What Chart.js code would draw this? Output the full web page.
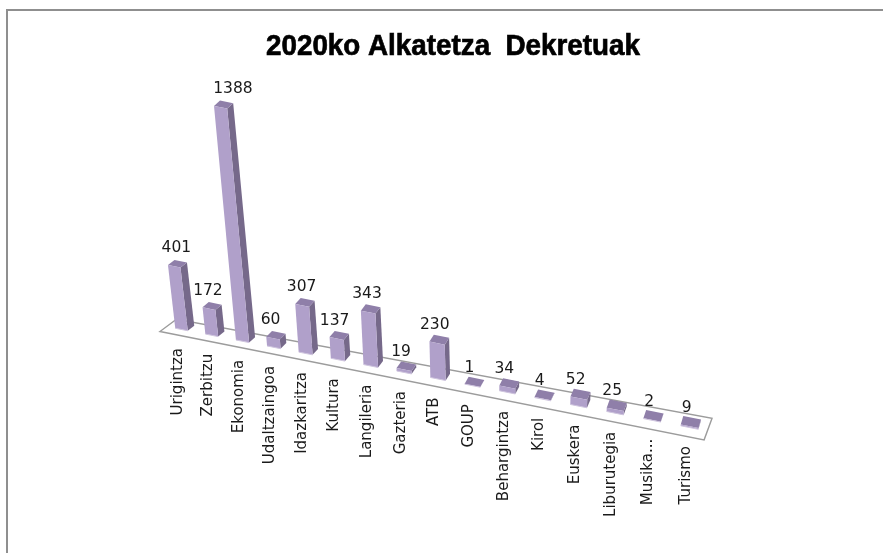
<!DOCTYPE html>
<html><head><meta charset="utf-8">
<style>
html,body{margin:0;padding:0;background:#fff;overflow:hidden;width:883px;height:553px}
#frame{position:absolute;left:6px;top:9px;width:900px;height:600px;border-left:2px solid #8f8f8f;border-top:2px solid #8f8f8f}
canvas{position:absolute;left:0;top:0}
</style>
<script src="https://cdn.jsdelivr.net/npm/chart.js@4"></script>
</head><body>
<div id="frame"></div>
<canvas id="c" width="883" height="553"></canvas>
<script>
const titleText = '2020ko Alkatetza  Dekretuak';
const categories = ['Urigintza','Zerbitzu','Ekonomia','Udaltzaingoa','Idazkaritza','Kultura','Langileria','Gazteria','ATB','GOUP','Behargintza','Kirol','Euskera','Liburutegia','Musika...','Turismo'];
const values = [401,172,1388,60,307,137,343,19,230,1,34,4,52,25,2,9];
const FRONT='#b0a0ca', SIDE='#76698a', TOP='#8f7fa9', TEXT='#1a1a1a';

// Oblique view of the flat scale space: t = category position, h = bar height in scale pixels
function view(chart, px){
  const xs = chart.scales.x, t = (px - xs.getPixelForValue(0)) / (xs.getPixelForValue(1) - xs.getPixelForValue(0));
  const X = 181.5 + 30*t + 0.258*t*t;
  return {t, X, Y: 329.5 + 0.193*(X-181.5),
    w: 12.5 + 0.35*t, dx: 6.5 - 4*t/15, dy: -5 - 3.5*t/15, lean: -(510-X)*0.00035};
}
const oblique = {
  id:'oblique',
  beforeDatasetsDraw(chart){
    const ctx = chart.ctx, xs = chart.scales.x;
    const L = view(chart, xs.left), R = view(chart, xs.right);
    ctx.save();
    ctx.beginPath();
    ctx.moveTo(L.X-L.dx, L.Y-L.dy);
    ctx.lineTo(R.X-R.dx-2, R.Y-R.dy);
    ctx.lineTo(R.X+1.5*R.dx, R.Y+1.5*R.dy);
    ctx.lineTo(L.X+1.5*L.dx, L.Y+1.5*L.dy);
    ctx.closePath();
    ctx.strokeStyle='#9c9c9c'; ctx.lineWidth=1.4; ctx.stroke();
    ctx.restore();
    // title, squeezed to the reference's condensed look
    ctx.save();
    ctx.font='bold 30px "Liberation Sans"'; ctx.fillStyle='#000'; ctx.strokeStyle='#000'; ctx.lineWidth=0.7;
    ctx.textAlign='center'; ctx.textBaseline='alphabetic';
    const sx = 374/ctx.measureText(titleText).width;
    ctx.translate(453,55); ctx.scale(sx,1);
    ctx.fillText(titleText,0,0);
    ctx.strokeText(titleText,0,0);
    ctx.restore();
  },
  afterDatasetsDraw(chart){
    const ctx = chart.ctx, meta = chart.getDatasetMeta(0);
    ctx.save();
    const poly=(pts,col)=>{ctx.beginPath();pts.forEach((p,i)=>i?ctx.lineTo(p[0],p[1]):ctx.moveTo(p[0],p[1]));ctx.closePath();ctx.fillStyle=col;ctx.fill();};
    meta.data.forEach((el,i)=>{
      const v = view(chart, el.x), raw = el.base-el.y, h = raw*(0.91+0.09*raw/234);
      const s = v.w/2, slope = 0.2;
      const BL=[v.X-s, v.Y-s*slope], BR=[v.X+s, v.Y+s*slope];
      const ox=v.lean*h, TL=[BL[0]+ox,BL[1]-h], TR=[BR[0]+ox,BR[1]-h];
      const d=p=>[p[0]+v.dx,p[1]+v.dy];
      poly([BR,d(BR),d(TR),TR],SIDE);
      poly([TL,TR,d(TR),d(TL)],TOP);
      poly([BL,BR,TR,TL],FRONT);
      ctx.beginPath();ctx.moveTo(BL[0],BL[1]);ctx.lineTo(BR[0],BR[1]);ctx.strokeStyle='#cfc5de';ctx.lineWidth=1;ctx.stroke();
      // value label
      ctx.fillStyle=TEXT; ctx.font='15.5px "DejaVu Sans"'; ctx.textAlign='center'; ctx.textBaseline='middle';
      ctx.fillText(String(values[i]), v.X-3+ox*0.3, v.Y-h-18);
      // category label
      ctx.save();
      ctx.translate(v.X-3.5, v.Y+18.5);
      ctx.rotate(-Math.PI/2);
      ctx.textAlign='right'; ctx.textBaseline='middle'; ctx.font='15px "DejaVu Sans"';
      ctx.fillText(chart.data.labels[i],0,0);
      ctx.restore();
    });
    ctx.restore();
  }
};
new Chart(document.getElementById('c'),{
  type:'bar',
  data:{labels:categories,datasets:[{data:values,backgroundColor:'rgba(0,0,0,0)',borderWidth:0}]},
  options:{
    responsive:false,animation:false,
    layout:{padding:{left:206,right:183,top:105,bottom:212}},
    plugins:{legend:{display:false},tooltip:{enabled:false},title:{display:false}},
    scales:{
      x:{display:false},
      y:{display:false,min:0,max:1400}
    }
  },
  plugins:[oblique]
});
</script>
</body></html>
